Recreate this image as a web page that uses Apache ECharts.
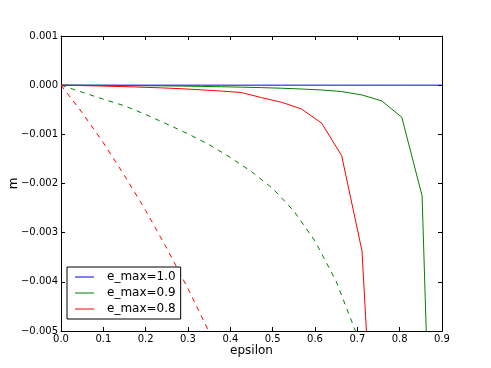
<!DOCTYPE html>
<html>
<head>
<meta charset="utf-8">
<script src="https://cdn.jsdelivr.net/npm/echarts@6/dist/echarts.min.js"></script>
<style>html,body{margin:0;padding:0;background:#fff;}#c{width:491px;height:368px;}</style>
</head>
<body>
<div id="c"></div>
<script>
// epsilon grid used by the solid curves
var epsSolid = [0, 0.047, 0.095, 0.142, 0.189, 0.237, 0.284, 0.332, 0.379, 0.426, 0.474, 0.521, 0.568, 0.616, 0.663, 0.711, 0.758, 0.805, 0.853, 0.9];
var mSolid10 = [0, 0, 0, 0, 0, 0, 0, 0, 0, 0, 0, 0, 0, 0, 0, 0, 0, 0, 0, 0];
var mSolid09 = [0, -0.000002, -0.000004, -0.000007, -0.00001, -0.000014, -0.000019, -0.000025, -0.000032, -0.00004, -0.00005, -0.000062, -0.000078, -0.000098, -0.00013, -0.000199, -0.000321, -0.000653, -0.00225, -0.0155];
var mSolid08 = [0, -0.000008, -0.000017, -0.000028, -0.00004, -0.000055, -0.000072, -0.000095, -0.00012, -0.00015, -0.000254, -0.000348, -0.000484, -0.000775, -0.001434, -0.003372, -0.0107];
// dashed curves
var epsDash09 = [0, 0.05, 0.1, 0.15, 0.2, 0.25, 0.3, 0.35, 0.4, 0.45, 0.5, 0.55, 0.6, 0.65, 0.7];
var mDash09 = [0, -0.000144, -0.000285, -0.00042, -0.000597, -0.00079, -0.00099, -0.00121, -0.00147, -0.00176, -0.0021, -0.00256, -0.00317, -0.00399, -0.0051];
var epsDash08 = [0, 0.05, 0.1, 0.15, 0.2, 0.25, 0.3, 0.35, 0.4];
var mDash08 = [0, -0.00056, -0.00117, -0.00184, -0.00255, -0.00332, -0.00414, -0.00502, -0.0059];
var xTicks = [0.0, 0.1, 0.2, 0.3, 0.4, 0.5, 0.6, 0.7, 0.8, 0.9];
var yTicks = [0.001, 0.000, -0.001, -0.002, -0.003, -0.004, -0.005];
var legendNames = ['e_max=1.0', 'e_max=0.9', 'e_max=0.8'];

function pairs(xs, ys) { return ys.map(function (y, i) { return [xs[i], y]; }); }
var FONT = 'DejaVu Sans';
function yFmt(v) { return (v < -1e-12 ? '\u2212' : '') + Math.abs(v).toFixed(3); }

var BLUE = '#0000ff', GREEN = '#008000', RED = '#ff0000';
function axisBase() {
  return {
    axisLine: { show: true, onZero: false, lineStyle: { color: '#000', width: 1 } },
    axisTick: { show: true, inside: true, length: 4, lineStyle: { color: '#000' } },
    splitLine: { show: false },
    nameMoveOverlap: false
  };
}

var chart = echarts.init(document.getElementById('c'), null, { renderer: 'canvas' });
chart.setOption({
  animation: false,
  backgroundColor: '#fff',
  grid: { left: 61, right: 49, top: 36, bottom: 37, containLabel: false, outerBoundsMode: 'none' },
  xAxis: [
    Object.assign(axisBase(), {
      type: 'value', min: xTicks[0], max: xTicks[xTicks.length - 1], interval: 0.1, position: 'bottom',
      name: 'epsilon', nameLocation: 'middle', nameGap: 14,
      nameTextStyle: { fontFamily: FONT, fontSize: 12, color: '#000' },
      axisLabel: { fontFamily: FONT, fontSize: 10, color: '#000', margin: 3, formatter: function (v) { return v.toFixed(1); } }
    }),
    Object.assign(axisBase(), {
      type: 'value', min: xTicks[0], max: xTicks[xTicks.length - 1], interval: 0.1, position: 'top',
      axisLabel: { show: false }
    })
  ],
  yAxis: [
    Object.assign(axisBase(), {
      type: 'value', min: yTicks[yTicks.length - 1], max: yTicks[0], interval: 0.001, position: 'left',
      name: 'm', nameLocation: 'middle', nameGap: 41,
      nameTextStyle: { fontFamily: FONT, fontSize: 12, color: '#000' },
      axisLabel: { fontFamily: FONT, fontSize: 10, color: '#000', margin: 3, formatter: yFmt }
    }),
    Object.assign(axisBase(), {
      type: 'value', min: yTicks[yTicks.length - 1], max: yTicks[0], interval: 0.001, position: 'right',
      axisLabel: { show: false }
    })
  ],
  legend: {
    data: legendNames,
    orient: 'vertical', left: 67, top: 267,
    padding: [4, 5, 4, 8], itemGap: 4, itemWidth: 19, itemHeight: 14,
    borderColor: '#000', borderWidth: 1, borderRadius: 0, backgroundColor: '#fff',
    textStyle: { fontFamily: FONT, fontSize: 12, color: '#000', padding: [0, 0, 0, 8] },
    icon: 'path://M0,6 L19,6 L19,8 L0,8 Z'
  },
  series: [
    { name: legendNames[0], type: 'line', data: pairs(epsSolid, mSolid10), symbol: 'none', color: '#7f7fff',
      lineStyle: { color: BLUE, width: 1 }, clip: true, z: 3 },
    { name: legendNames[1], type: 'line', data: pairs(epsSolid, mSolid09), symbol: 'none', color: '#7fbf7f',
      lineStyle: { color: GREEN, width: 1 }, clip: true, z: 3 },
    { name: legendNames[2], type: 'line', data: pairs(epsSolid, mSolid08), symbol: 'none', color: '#ff8080',
      lineStyle: { color: RED, width: 1 }, clip: true, z: 3 },
    { name: 'dash09', type: 'line', data: pairs(epsDash09, mDash09), symbol: 'none',
      lineStyle: { color: GREEN, width: 1, type: [5, 5] }, clip: true, z: 2 },
    { name: 'dash08', type: 'line', data: pairs(epsDash08, mDash08), symbol: 'none',
      lineStyle: { color: RED, width: 1, type: [5, 5] }, clip: true, z: 2 }
  ]
});
</script>
</body>
</html>
